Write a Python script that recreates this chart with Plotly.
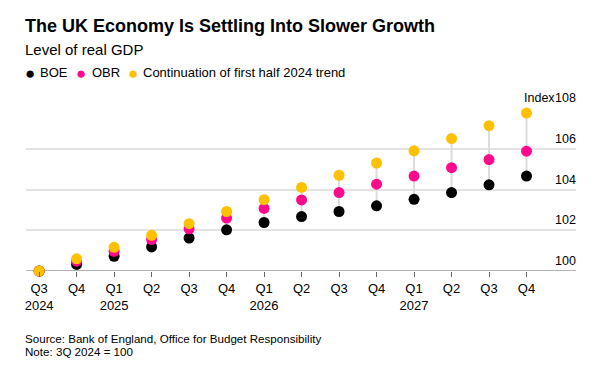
import plotly.graph_objects as go

quarters = ["Q3", "Q4", "Q1", "Q2", "Q3", "Q4", "Q1", "Q2", "Q3", "Q4", "Q1", "Q2", "Q3", "Q4"]
years = ["2024", "", "2025", "", "", "", "2026", "", "", "", "2027", "", "", ""]
boe = [100.0, 100.32, 100.72, 101.18, 101.62, 102.02, 102.38, 102.67, 102.92, 103.2, 103.52, 103.85, 104.23, 104.66]
obr = [100.0, 100.48, 100.97, 101.54, 102.07, 102.6, 103.07, 103.49, 103.85, 104.26, 104.66, 105.07, 105.47, 105.88]
trend = [100.0, 100.6, 101.16, 101.75, 102.32, 102.92, 103.5, 104.1, 104.7, 105.3, 105.9, 106.5, 107.13, 107.75]
y_ticks = [100, 102, 104, 106, 108]
y_unit = "Index"

names = ["BOE", "OBR", "Continuation of first half 2024 trend"]
colors = ["#000000", "#ff0a8c", "#ffc000"]
series = [boe, obr, trend]

# page has an 8px body margin; figure is sized so the page is 597x371
OFF = 8
W, H = 597 - OFF, 371 - OFF
# plot area in screen pixels: x 26..576, y 108..271
ML, MR, MT, MB = 26 - OFF, 597 - 576, 108 - OFF, 371 - 271
PW, PH = W - ML - MR, H - MT - MB


def px(x):
    return (x - OFF - ML) / PW


def py(y):
    return (H - MB - (y - OFF)) / PH


FONT = "Liberation Sans, Arial, Helvetica, sans-serif"
xs = list(range(len(quarters)))

fig = go.Figure()

# connector lines
lx, ly = [], []
for i in xs:
    vals = [s[i] for s in series]
    lx += [i, i, None]
    ly += [min(vals), max(vals), None]
fig.add_trace(go.Scatter(x=lx, y=ly, mode="lines", line=dict(color="#dcdcdc", width=2),
                         showlegend=False, hoverinfo="skip", cliponaxis=False))

for name, col, s in zip(names, colors, series):
    fig.add_trace(go.Scatter(x=xs, y=s, mode="markers", name=name,
                             marker=dict(color=col, size=11, line=dict(width=0)),
                             showlegend=False, cliponaxis=False))

ticktext = [q + ("<br>" + y if y else "<br> ") for q, y in zip(quarters, years)]

annotations = []
annotations.append(dict(text="<b>The UK Economy Is Settling Into Slower Growth</b>", x=px(23), y=py(26),
                        xref="paper", yref="paper", xanchor="left", yanchor="middle", showarrow=False,
                        font=dict(family=FONT, size=18, color="#000")))
annotations.append(dict(text="Level of real GDP", x=px(23), y=py(49),
                        xref="paper", yref="paper", xanchor="left", yanchor="middle", showarrow=False,
                        font=dict(family=FONT, size=15, color="#000")))
# legend
dot_x = [30, 81, 133.3]
txt_x = [37.5, 90, 141]
for dx, tx, name, col in zip(dot_x, txt_x, names, colors):
    annotations.append(dict(text="●", x=px(dx), y=py(73.5), xref="paper", yref="paper",
                            xanchor="center", yanchor="middle", showarrow=False,
                            font=dict(family=FONT, size=17, color=col)))
    annotations.append(dict(text=name, x=px(tx), y=py(73), xref="paper", yref="paper",
                            xanchor="left", yanchor="middle", showarrow=False,
                            font=dict(family=FONT, size=13, color="#000")))
# y tick labels above gridlines
for v in y_ticks:
    annotations.append(dict(text=str(v), x=1, y=v, xref="paper", yref="y", xanchor="right",
                            yanchor="bottom", showarrow=False, xshift=2, yshift=1,
                            font=dict(family=FONT, size=12.5, color="#000")))
annotations.append(dict(text=y_unit, x=1, y=y_ticks[-1], xref="paper", yref="y", xanchor="right",
                        yanchor="bottom", showarrow=False, xshift=-19, yshift=1,
                        font=dict(family=FONT, size=12.5, color="#000")))
# footer
annotations.append(dict(text="Source: Bank of England, Office for Budget Responsibility",
                        x=px(23), y=py(338), xref="paper", yref="paper", xanchor="left", yanchor="middle",
                        showarrow=False, font=dict(family=FONT, size=11.6, color="#000")))
annotations.append(dict(text="Note: 3Q 2024 = 100",
                        x=px(23), y=py(351.5), xref="paper", yref="paper", xanchor="left", yanchor="middle",
                        showarrow=False, font=dict(family=FONT, size=11.6, color="#000")))

fig.update_layout(
    width=W, height=H, margin=dict(l=ML, r=MR, t=MT, b=MB),
    paper_bgcolor="white", plot_bgcolor="white",
    font=dict(family=FONT, size=13, color="#000"),
    annotations=annotations,
    xaxis=dict(range=[-0.35, 14.32], tickmode="array", tickvals=xs, ticktext=ticktext,
               showgrid=False, zeroline=False, showline=False, ticks="outside", ticklen=5,
               tickcolor="#666", tickwidth=1, tickfont=dict(family=FONT, size=13, color="#000"),
               fixedrange=True),
    yaxis=dict(range=[100, 108], tickvals=y_ticks, showticklabels=False, showgrid=True,
               gridcolor="#e3e3e3", gridwidth=1.5, zeroline=False, showline=False, fixedrange=True),
    showlegend=False,
)
fig.add_hline(y=y_ticks[0], line=dict(color="#666", width=1), layer="below")

fig.write_html("out.html")
